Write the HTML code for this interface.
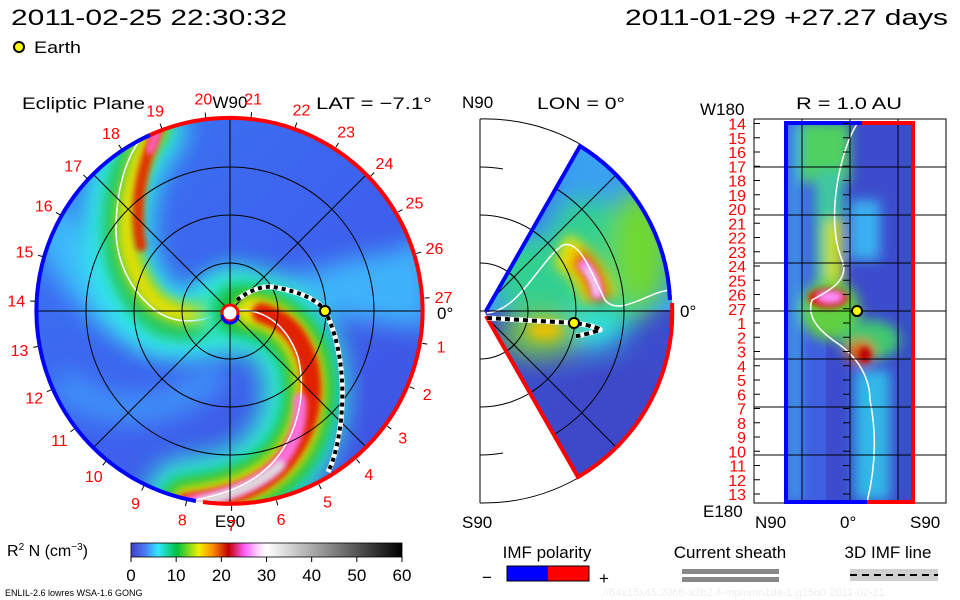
<!DOCTYPE html>
<html><head><meta charset="utf-8"><style>
html,body{margin:0;padding:0;background:#fff}
svg{display:block}
text{font-family:"Liberation Sans",sans-serif;fill:#000}
.r{fill:#f00}
</style></head><body>
<svg id="chart" width="960" height="600" viewBox="0 0 960 600" xmlns="http://www.w3.org/2000/svg">
<defs>
<filter id="b6" x="-50%" y="-50%" width="200%" height="200%"><feGaussianBlur stdDeviation="6"/></filter>
<filter id="b3" x="-50%" y="-50%" width="200%" height="200%"><feGaussianBlur stdDeviation="3"/></filter>
<filter id="b12" x="-50%" y="-50%" width="200%" height="200%"><feGaussianBlur stdDeviation="12"/></filter>
<clipPath id="discClip"><circle cx="230" cy="311" r="193"/></clipPath>
<clipPath id="wedgeClip"><path d="M484,311 L580,144 A192,192 0 0 1 672,311 L672,318 A192,192 0 0 1 578,478 Z"/></clipPath>
<clipPath id="rectClip"><rect x="786" y="122" width="128" height="380"/></clipPath>
<linearGradient id="cbar" x1="0" x2="1" y1="0" y2="0">
<stop offset="0" stop-color="#4040c8"/><stop offset="0.05" stop-color="#4a78f5"/>
<stop offset="0.1" stop-color="#30e8ff"/><stop offset="0.17" stop-color="#00c040"/>
<stop offset="0.25" stop-color="#f0f000"/><stop offset="0.3" stop-color="#ff9000"/>
<stop offset="0.36" stop-color="#c00000"/><stop offset="0.42" stop-color="#ff60ff"/>
<stop offset="0.47" stop-color="#ffd8ff"/><stop offset="0.5" stop-color="#ffffff"/>
<stop offset="1" stop-color="#000000"/>
</linearGradient>
<linearGradient id="discBase" x1="0" y1="0" x2="1" y2="1">
<stop offset="0" stop-color="#3a78f4"/><stop offset="0.5" stop-color="#3d62ee"/><stop offset="1" stop-color="#4050e0"/>
</linearGradient>
</defs>

<!-- header -->
<text x="11" y="25" font-size="22" textLength="276" lengthAdjust="spacingAndGlyphs">2011-02-25 22:30:32</text>
<text x="625" y="25" font-size="22" textLength="323" lengthAdjust="spacingAndGlyphs">2011-01-29 +27.27 days</text>
<circle cx="19" cy="47" r="5" fill="#ff0" stroke="#000" stroke-width="2"/>
<text x="34" y="53" font-size="17" textLength="47" lengthAdjust="spacingAndGlyphs">Earth</text>

<!-- left panel titles -->
<text x="22" y="109" font-size="17" textLength="123" lengthAdjust="spacingAndGlyphs">Ecliptic Plane</text>
<text x="316" y="109" font-size="17" textLength="116" lengthAdjust="spacingAndGlyphs">LAT = −7.1°</text>
<text x="230" y="108" font-size="17" text-anchor="middle">W90</text>
<text x="230" y="527" font-size="17" text-anchor="middle">E90</text>
<text x="437" y="319" font-size="17">0°</text>

<!-- left disc -->
<g clip-path="url(#discClip)">
<rect x="30" y="110" width="400" height="400" fill="url(#discBase)"/>
<g filter="url(#b12)">
<path d="M230,311 C280,280 330,260 400,250 L430,230 L430,330 C360,320 300,310 230,311Z" fill="#40c8ff" opacity="0.8"/>
<path d="M40,250 C80,330 160,380 230,330 L160,300 C120,260 80,230 40,180Z" fill="#40d8ff" opacity="0.7"/>
<path d="M60,380 C100,420 170,420 220,370" stroke="#40b0ff" stroke-width="30" fill="none" opacity="0.6"/>
</g>
<g id="arm1" fill="none" stroke-linecap="round">
<path d="M227,307 C205,325 183,327 160,320 C130,300 115,260 117,225 C118,190 125,160 150,130" stroke="#30e8e8" stroke-width="70" filter="url(#b12)"/>
<path d="M227,307 C205,325 183,327 160,320 C130,300 115,260 117,225 C118,190 125,160 150,130" stroke="#20c860" stroke-width="36" filter="url(#b6)" transform="translate(3,-1)"/>
<path d="M200,316 C183,320 160,316 145,300 C125,275 117,245 123,205 C128,175 135,155 150,130" stroke="#e8e000" stroke-width="20" filter="url(#b6)" transform="translate(6,-3)"/>
<path d="M132,250 C125,215 130,175 150,130" stroke="#e03000" stroke-width="11" filter="url(#b3)" transform="translate(9,-4)"/>
<path d="M150,150 L158,130" stroke="#ff60c0" stroke-width="9" filter="url(#b3)"/>
<path d="M227,307 C205,325 175,325 155,310 C130,290 115,260 116,225 C117,190 125,160 140,140" stroke="#fff" stroke-width="1.5"/>
</g>
<g id="arm2" fill="none" stroke-linecap="round">
<path d="M240,310 C260,310 285,320 300,357 C310,390 305,430 280,460 C260,485 230,495 187,500" stroke="#30e8d0" stroke-width="84" filter="url(#b12)"/>
<path d="M240,310 C262,311 290,322 305,357 C315,390 310,430 285,460 C262,485 230,497 187,502" stroke="#10c040" stroke-width="52" filter="url(#b6)"/>
<path d="M250,311 C270,313 292,325 305,357 C315,390 310,430 285,460 C262,485 230,497 187,502" stroke="#f0e000" stroke-width="32" filter="url(#b6)"/>
<path d="M262,313 C282,320 298,330 308,362 C316,395 310,430 284,462 C262,487 230,498 187,503" stroke="#e02000" stroke-width="20" filter="url(#b3)"/>
<path d="M300,400 C302,430 290,455 270,472 C250,488 225,496 190,502" stroke="#ff70e0" stroke-width="13" filter="url(#b3)"/>
<path d="M280,465 C262,482 235,494 200,502" stroke="#dddddd" stroke-width="10" filter="url(#b3)"/>
<path d="M240,310 C260,310 285,320 298,357 C306,390 300,430 275,460 C255,483 230,493 195,500" stroke="#fff" stroke-width="1.5"/>
</g>
<!-- grid -->
<g fill="none" stroke="#000" stroke-width="1">
<circle cx="230" cy="311" r="48"/><circle cx="230" cy="311" r="96"/><circle cx="230" cy="311" r="144"/>
<line x1="37" y1="311" x2="423" y2="311"/><line x1="230" y1="118" x2="230" y2="504"/>
<line x1="93" y1="174" x2="367" y2="448"/><line x1="93" y1="448" x2="367" y2="174"/>
</g>
</g>
<!-- dashed field line -->
<path d="M237,300 C250,290 265,284 278,288 C300,292 318,300 325,311 C340,340 345,380 341,420 C338,445 334,460 328,472" fill="none" stroke="#fff" stroke-width="5"/>
<path d="M237,300 C250,290 265,284 278,288 C300,292 318,300 325,311 C340,340 345,380 341,420 C338,445 334,460 328,472" fill="none" stroke="#000" stroke-width="4" stroke-dasharray="4,4"/>
<circle cx="230" cy="313" r="8" fill="#fff" stroke="#f00" stroke-width="3"/>
<path d="M222,315 A8,8 0 0 0 238,315" fill="none" stroke="#00f" stroke-width="3"/>
<path d="M150,135 A193,193 0 0 0 196,501" fill="none" stroke="#00f" stroke-width="4"/>
<path d="M150,135 A193,193 0 1 1 203,502" fill="none" stroke="#f00" stroke-width="4"/>
<g id="lonLabels"></g>
<circle cx="325" cy="311" r="5" fill="#ff0" stroke="#000" stroke-width="2"/>

<!-- middle panel -->
<text x="462" y="108" font-size="17">N90</text>
<text x="537" y="109" font-size="17" textLength="88" lengthAdjust="spacingAndGlyphs">LON = 0°</text>
<text x="462" y="528" font-size="17">S90</text>
<text x="680" y="317" font-size="17">0°</text>
<g clip-path="url(#wedgeClip)">
<rect x="480" y="140" width="200" height="340" fill="#3c4ccc"/>
<rect x="480" y="140" width="200" height="170" fill="#3aa0f0"/>
<g filter="url(#b12)">
<ellipse cx="580" cy="270" rx="85" ry="70" fill="#30d090"/>
<ellipse cx="640" cy="250" rx="30" ry="60" fill="#70d830"/>
<ellipse cx="580" cy="330" rx="45" ry="20" fill="#30e0e0"/>
<ellipse cx="540" cy="335" rx="40" ry="25" fill="#70c050"/>
<ellipse cx="530" cy="195" rx="30" ry="45" fill="#3a80f0"/>
<ellipse cx="620" cy="425" rx="70" ry="60" fill="#3c48c8"/>
</g>
<g filter="url(#b6)">
<ellipse cx="545" cy="330" rx="18" ry="10" fill="#f0c000"/>
<path d="M560,250 C580,258 595,280 600,300" stroke="#f0e000" stroke-width="34" fill="none"/>
<path d="M575,257 C590,265 597,285 600,300" stroke="#e03000" stroke-width="20" fill="none"/>
</g>
<path d="M580,262 C592,270 597,285 598,298" stroke="#ff80ff" stroke-width="11" fill="none" filter="url(#b3)"/>
<path d="M585,268 C592,275 596,285 597,295" stroke="#e8e8e8" stroke-width="5" fill="none" filter="url(#b3)"/>
<path d="M487,313 C520,310 540,260 563,245 C580,240 590,270 605,300 C620,318 650,290 672,290" stroke="#fff" stroke-width="1.5" fill="none"/>
<g fill="none" stroke="#000">
<circle cx="480" cy="311" r="48"/><circle cx="480" cy="311" r="96"/><circle cx="480" cy="311" r="144"/>
<line x1="480" y1="311" x2="680" y2="311"/>
<line x1="480" y1="311" x2="630" y2="161"/><line x1="480" y1="311" x2="630" y2="461"/>
</g>
</g>
<g fill="none" stroke="#000">
<line x1="480" y1="119" x2="480" y2="503"/>
<path d="M480,119 A192,192 0 0 1 580,144"/><path d="M480,503 A192,192 0 0 0 578,478"/>
<path d="M480,167 A144,144 0 0 1 503,169"/><path d="M480,455 A144,144 0 0 0 503,453"/>
<path d="M480,215 A96,96 0 0 1 540,236"/><path d="M480,407 A96,96 0 0 0 540,386"/>
<path d="M480,263 A48,48 0 0 1 516,279"/><path d="M480,359 A48,48 0 0 0 516,343"/>
<line x1="480" y1="311" x2="486" y2="311"/>
</g>
<path d="M486,311 L580,146 A190,190 0 0 1 670,300" fill="none" stroke="#00f" stroke-width="4"/>
<path d="M486,316 L578,477 A190,190 0 0 0 672,303" fill="none" stroke="#f00" stroke-width="4"/>
<path d="M487,318 L574,323 C590,325 602,329 600,330 C590,333 580,336 576,336" fill="none" stroke="#fff" stroke-width="5"/>
<path d="M487,318 L574,323 C590,325 602,329 600,330 C590,333 580,336 576,336" fill="none" stroke="#000" stroke-width="4" stroke-dasharray="5,4"/>
<circle cx="574" cy="323" r="5" fill="#ff0" stroke="#000" stroke-width="2"/>

<!-- right panel -->
<text x="796" y="109" font-size="17" textLength="106" lengthAdjust="spacingAndGlyphs">R = 1.0 AU</text>
<text x="700" y="115" font-size="17">W180</text>
<text x="703" y="517" font-size="17">E180</text>
<text x="755" y="528" font-size="17">N90</text>
<text x="840" y="528" font-size="17">0°</text>
<text x="910" y="528" font-size="17">S90</text>
<rect x="754" y="119" width="192" height="384" fill="none" stroke="#000"/>
<g clip-path="url(#rectClip)">
<rect x="786" y="122" width="128" height="380" fill="#3c4ccc"/>
<rect x="786" y="122" width="40" height="380" fill="#3e60e0"/>
<g filter="url(#b6)">
<rect x="800" y="122" width="50" height="60" fill="#50d060"/>
<rect x="815" y="170" width="28" height="130" fill="#40c8a0"/>
<rect x="825" y="220" width="18" height="70" fill="#c8e020"/>
<rect x="850" y="200" width="30" height="60" fill="#3ab0f0"/>
<ellipse cx="830" cy="310" rx="30" ry="30" fill="#60d040"/>
<ellipse cx="870" cy="340" rx="30" ry="20" fill="#40c870"/>
<ellipse cx="860" cy="352" rx="14" ry="12" fill="#e06000"/>
<rect x="855" y="370" width="35" height="130" fill="#30b8e8"/>
<rect x="790" y="122" width="10" height="380" fill="#40d0f0" opacity="0.6"/>
</g>
<g filter="url(#b3)">
<ellipse cx="828" cy="298" rx="20" ry="10" fill="#e02000"/>
<ellipse cx="830" cy="297" rx="12" ry="5" fill="#ff90ff"/>
<ellipse cx="865" cy="355" rx="6" ry="8" fill="#c00000"/>
</g>
<path d="M857,124 C840,150 825,220 842,260 C850,280 830,290 812,300 C805,320 825,335 840,345 C860,360 870,380 870,400 C880,450 870,490 867,502" fill="none" stroke="#fff" stroke-width="1.5"/>
</g>
<g stroke="#000" stroke-width="1">
<line x1="802" y1="119" x2="802" y2="503"/><line x1="850" y1="119" x2="850" y2="503"/><line x1="898" y1="119" x2="898" y2="503"/>
<line x1="754" y1="167" x2="946" y2="167"/><line x1="754" y1="215" x2="946" y2="215"/><line x1="754" y1="263" x2="946" y2="263"/>
<line x1="754" y1="311" x2="946" y2="311"/><line x1="754" y1="359" x2="946" y2="359"/><line x1="754" y1="407" x2="946" y2="407"/><line x1="754" y1="455" x2="946" y2="455"/>
</g>
<path d="M862,123 L786,123 L786,502 L867,502" fill="none" stroke="#00f" stroke-width="4"/>
<path d="M862,123 L913,123 L913,502 L867,502" fill="none" stroke="#f00" stroke-width="4"/>
<g id="dayLabels"></g>
<circle cx="857" cy="311" r="5" fill="#ff0" stroke="#000" stroke-width="2"/>

<!-- colorbar -->
<text x="7" y="556" font-size="16">R<tspan dy="-6" font-size="10">2</tspan><tspan dy="6"> N (cm</tspan><tspan dy="-6" font-size="10">−3</tspan><tspan dy="6">)</tspan></text>
<rect x="131" y="543" width="271" height="14" fill="url(#cbar)" stroke="#000" stroke-width="0.8"/>
<g id="cbarTicks"></g>
<text x="5" y="596" font-size="9">ENLIL-2.6 lowres WSA-1.6 GONG</text>
<text x="600" y="596" font-size="11" style="fill:#eeeeee">.//64x15x45.2068-a2b2.4-mplumn1de-1.g15q0   2011-02-21</text>

<!-- legends -->
<text x="547" y="558" font-size="17" text-anchor="middle">IMF polarity</text>
<text x="482" y="583" font-size="17">−</text>
<rect x="507" y="566" width="41" height="15" fill="#00f"/>
<rect x="548" y="566" width="41" height="15" fill="#f00"/>
<rect x="507" y="566" width="82" height="15" fill="none" stroke="#000"/>
<text x="599" y="584" font-size="17">+</text>
<text x="730" y="558" font-size="17" text-anchor="middle">Current sheath</text>
<rect x="682" y="569" width="97" height="5" fill="#888"/>
<rect x="682" y="577" width="97" height="5" fill="#888"/>
<text x="888" y="558" font-size="17" text-anchor="middle">3D IMF line</text>
<rect x="850" y="569" width="88" height="12" fill="#d0d0d0"/>
<line x1="850" y1="575" x2="938" y2="575" stroke="#000" stroke-width="2" stroke-dasharray="7,5"/>

<script>
const lonLabels = ["1","2","3","4","5","6","7","8","9","10","11","12","13","14","15","16","17","18","19","20","21","22","23","24","25","26","27"];
const dayLabels = ["14","15","16","17","18","19","20","21","22","23","24","25","26","27","1","2","3","4","5","6","7","8","9","10","11","12","13"];
const cbarTickValues = [0,10,20,30,40,50,60];
const NS = "http://www.w3.org/2000/svg";
const cx = 230, cy = 311;
function lonAngle(i){ return (3.8 - (i+1)*360/27) * Math.PI/180; }
const lg = document.getElementById('lonLabels');
lonLabels.forEach((lab, i) => {
  const a = lonAngle(i);
  const t = document.createElementNS(NS, 'text');
  
  
  t.setAttribute('x', cx + 214*Math.cos(a));
  t.setAttribute('y', cy - 214*Math.sin(a) + 6);
  t.setAttribute('text-anchor', 'middle');
  t.setAttribute('font-size', '16');
  t.setAttribute('class', 'r');
  t.textContent = lab;
  lg.appendChild(t);
  const tk = document.createElementNS(NS, 'line');
  
  
  tk.setAttribute('x1', cx + 195*Math.cos(a)); tk.setAttribute('y1', cy - 195*Math.sin(a));
  tk.setAttribute('x2', cx + 200*Math.cos(a)); tk.setAttribute('y2', cy - 200*Math.sin(a));
  tk.setAttribute('stroke', '#000');
  lg.appendChild(tk);
});
const dg = document.getElementById('dayLabels');
function dayY(i){ return 123.5 + i*(494-123.5)/(dayLabels.length-1); }
dayLabels.forEach((lab, i) => {
  const y = dayY(i);
  const t = document.createElementNS(NS, 'text');
  
  
  t.setAttribute('x', 746);
  t.setAttribute('y', y + 6);
  t.setAttribute('text-anchor', 'end');
  t.setAttribute('font-size', '16');
  t.setAttribute('class', 'r');
  t.textContent = lab;
  dg.appendChild(t);
  const tk = document.createElementNS(NS, 'line');
  
  
  tk.setAttribute('x1', 843); tk.setAttribute('x2', 850);
  tk.setAttribute('y1', y); tk.setAttribute('y2', y);
  tk.setAttribute('stroke', '#000');
  dg.appendChild(tk);
  const tk2 = document.createElementNS(NS, 'line');
  
  
  tk2.setAttribute('x1', 754); tk2.setAttribute('x2', 760);
  tk2.setAttribute('y1', y); tk2.setAttribute('y2', y);
  tk2.setAttribute('stroke', '#000');
  dg.appendChild(tk2);
});
const cg = document.getElementById('cbarTicks');
function cbarX(v){ return 131 + v/60*271; }
cbarTickValues.forEach(v => {
  const t = document.createElementNS(NS, 'text');
  
  
  t.setAttribute('x', cbarX(v));
  t.setAttribute('y', 581);
  t.setAttribute('text-anchor', 'middle');
  t.setAttribute('font-size', '17');
  t.textContent = v;
  cg.appendChild(t);
  const tk = document.createElementNS(NS, 'line');
  
  
  tk.setAttribute('x1', cbarX(v)); tk.setAttribute('x2', cbarX(v));
  tk.setAttribute('y1', 557); tk.setAttribute('y2', 562);
  tk.setAttribute('stroke', '#000');
  cg.appendChild(tk);
});
</script>
</svg>
</body></html>
